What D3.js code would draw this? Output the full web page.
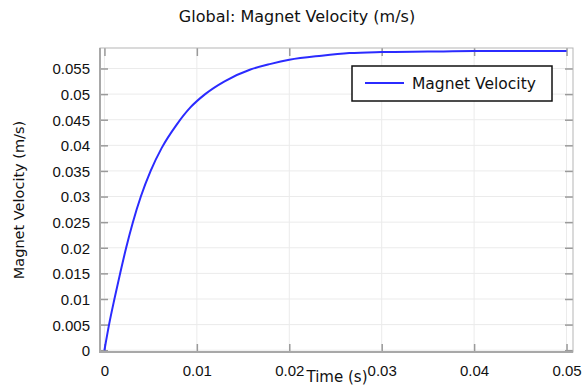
<!DOCTYPE html>
<html>
<head>
<meta charset="utf-8">
<script src="https://cdn.jsdelivr.net/npm/d3@7"></script>
<style>
  body { margin: 0; background: #fff; }
  svg { display: block; font-family: 'DejaVu Sans', sans-serif; }
</style>
</head>
<body>
<svg id="chart" width="587" height="385"></svg>
<script>
// time (s) and magnet velocity (m/s)
const times = [0, 0.0005, 0.00108, 0.0017, 0.00235, 0.00308, 0.00394, 0.005, 0.0062, 0.0078,
  0.0093, 0.0109, 0.013, 0.0158, 0.018, 0.02, 0.0235, 0.0265, 0.03, 0.035,
  0.04, 0.045, 0.05];
const velocity = [0, 0.005, 0.01, 0.015, 0.02, 0.025, 0.03, 0.035, 0.0395, 0.044,
  0.0474, 0.05, 0.0525, 0.0548, 0.0559, 0.0567, 0.0575, 0.058, 0.0582, 0.0583,
  0.0584, 0.0584, 0.0584];

const xTicks = [0, 0.01, 0.02, 0.03, 0.04, 0.05];
const xTickLabels = ['0', '0.01', '0.02', '0.03', '0.04', '0.05'];
const yTicks = [0, 0.005, 0.01, 0.015, 0.02, 0.025, 0.03, 0.035, 0.04, 0.045, 0.05, 0.055];
const yTickLabels = ['0', '0.005', '0.01', '0.015', '0.02', '0.025', '0.03', '0.035', '0.04', '0.045', '0.05', '0.055'];

const seriesName = 'Magnet Velocity';
const title = 'Global: Magnet Velocity (m/s)';

const svg = d3.select('#chart');
const plot = { left: 100, right: 573, top: 48, bottom: 352 };

const x = d3.scaleLinear().domain([-0.00048, 0.0507]).range([plot.left, plot.right]);
const y = d3.scaleLinear().domain([-0.00035, 0.0590]).range([plot.bottom, plot.top]);

// grid
const grid = svg.append('g');
grid.selectAll('.gx').data(xTicks).enter().append('line')
  .attr('x1', d => x(d)).attr('x2', d => x(d))
  .attr('y1', plot.top).attr('y2', plot.bottom)
  .attr('stroke', '#ebebeb').attr('stroke-width', 1);
grid.selectAll('.gy').data(yTicks).enter().append('line')
  .attr('x1', plot.left).attr('x2', plot.right)
  .attr('y1', d => y(d)).attr('y2', d => y(d))
  .attr('stroke', '#ebebeb').attr('stroke-width', 1);

// axes (inward ticks on all four sides)
const tickColor = '#9a9a9a';
const axisLeftG = svg.append('g').attr('transform', `translate(${plot.left},0)`)
  .call(d3.axisLeft(y).tickValues(yTicks).tickFormat((d, i) => yTickLabels[i]).tickSizeInner(-8).tickSizeOuter(0).tickPadding(10));
const axisRightG = svg.append('g').attr('transform', `translate(${plot.right},0)`)
  .call(d3.axisRight(y).tickValues(yTicks).tickFormat('').tickSizeInner(-8).tickSizeOuter(0));
const axisBottomG = svg.append('g').attr('transform', `translate(0,${plot.bottom})`)
  .call(d3.axisBottom(x).tickValues(xTicks).tickFormat((d, i) => xTickLabels[i]).tickSizeInner(-8).tickSizeOuter(0).tickPadding(13));
const axisTopG = svg.append('g').attr('transform', `translate(0,${plot.top})`)
  .call(d3.axisTop(x).tickValues(xTicks).tickFormat('').tickSizeInner(-8).tickSizeOuter(0));

[axisLeftG, axisRightG, axisBottomG, axisTopG].forEach(g => {
  g.select('.domain').remove();
  g.selectAll('.tick line').attr('stroke', tickColor).attr('stroke-width', 1.5);
  g.selectAll('.tick text').attr('fill', '#111').style('font-size', '15px');
});
axisLeftG.selectAll('.tick text').attr('dy', '0.36em');
axisBottomG.selectAll('.tick text').attr('dy', '0.72em');

// frame
svg.append('rect')
  .attr('x', plot.left).attr('y', plot.top)
  .attr('width', plot.right - plot.left).attr('height', plot.bottom - plot.top)
  .attr('fill', 'none').attr('stroke', '#b5b5b5').attr('stroke-width', 1);
svg.append('path')
  .attr('d', `M${plot.left},${plot.top}V${plot.bottom}H${plot.right}`)
  .attr('fill', 'none').attr('stroke', '#a8a8a8').attr('stroke-width', 2);

// curve
const line = d3.line().x(d => x(d[0])).y(d => y(d[1])).curve(d3.curveMonotoneX);
svg.append('path')
  .datum(times.map((t, i) => [t, velocity[i]]))
  .attr('d', line)
  .attr('fill', 'none').attr('stroke', '#2b2bff').attr('stroke-width', 2);

// legend
const lg = svg.append('g');
lg.append('rect').attr('x', 352).attr('y', 66).attr('width', 200).attr('height', 35)
  .attr('fill', '#fff').attr('stroke', '#111').attr('stroke-width', 1.5);
lg.append('line').attr('x1', 365).attr('x2', 404).attr('y1', 83).attr('y2', 83)
  .attr('stroke', '#2b2bff').attr('stroke-width', 2);
lg.append('text').attr('x', 412).attr('y', 88.5).attr('fill', '#111')
  .style('font-size', '15.5px').text(seriesName);

// title and axis labels
svg.append('text').attr('x', 297).attr('y', 22).attr('text-anchor', 'middle')
  .attr('fill', '#111').style('font-size', '16px').text(title);
svg.append('text').attr('x', 337).attr('y', 382).attr('text-anchor', 'middle')
  .attr('fill', '#111').style('font-size', '15px').text('Time (s)');
svg.append('text').attr('transform', 'translate(24,200) rotate(-90)')
  .attr('text-anchor', 'middle').attr('fill', '#111')
  .style('font-size', '14.5px').text('Magnet Velocity (m/s)');
</script>
</body>
</html>
